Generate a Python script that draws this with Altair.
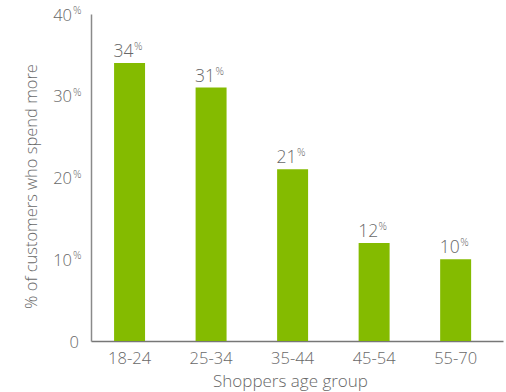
import altair as alt
import pandas as pd

# Share of customers who spend more, by shopper age group
age_groups = ["18-24", "25-34", "35-44", "45-54", "55-70"]
spend_more_pct = [34, 31, 21, 12, 10]

# Y axis tick labels
tick_values = [0, 10, 20, 30, 40]

GREEN = "#84BB00"
GREY = "#686868"
FONT = "Open Sans"
WEIGHT = 300

df = pd.DataFrame({"age": age_groups, "pct": spend_more_pct})
ticks = pd.DataFrame({"v": tick_values})

x_enc = alt.X(
    "age:N",
    sort=age_groups,
    scale=alt.Scale(paddingInner=0.62, paddingOuter=0.337, align=0.42),
    axis=alt.Axis(
        title="Shoppers age group",
        labelAngle=0,
        labelFontSize=16.5,
        labelColor=GREY,
        labelFont=FONT,
        labelFontWeight=WEIGHT,
        labelPadding=9,
        ticks=False,
        domainColor="#777777",
        domainWidth=1.5,
        titleFontSize=17,
        titleFont=FONT,
        titleColor=GREY,
        titleFontWeight=WEIGHT,
        titleX=199,
        titleY=45,
        titleBaseline="alphabetic",
    ),
)
y_scale = alt.Scale(domain=[0, 40], nice=False)
y_enc = alt.Y(
    "pct:Q",
    scale=y_scale,
    axis=alt.Axis(
        title="% of customers who spend more",
        labels=False,
        ticks=False,
        grid=False,
        domainColor="#8a8a8a",
        domainWidth=1.5,
        titleFontSize=16.5,
        titleFont=FONT,
        titleColor=GREY,
        titleFontWeight=WEIGHT,
        titleX=-55,
        titleY=172,
        titleBaseline="alphabetic",
    ),
)

base = alt.Chart(df)
bars = base.mark_bar(color=GREEN).encode(x=x_enc, y=y_enc)

value_num = base.mark_text(
    align="right", baseline="alphabetic", dx=4, dy=-6,
    fontSize=17.5, font=FONT, fontWeight=WEIGHT, color=GREY,
).encode(x=alt.X("age:N", sort=age_groups), y=alt.Y("pct:Q", scale=y_scale),
         text=alt.Text("pct:Q"))
value_pct = base.mark_text(
    align="left", baseline="alphabetic", dx=4.5, dy=-13,
    fontSize=10.5, font=FONT, fontWeight=WEIGHT, color=GREY, text="%",
).encode(x=alt.X("age:N", sort=age_groups), y=alt.Y("pct:Q", scale=y_scale))

tick_base = alt.Chart(ticks)
tick_num = tick_base.transform_filter("datum.v > 0").mark_text(
    align="right", baseline="middle", dy=1.5,
    fontSize=16.5, font=FONT, fontWeight=WEIGHT, color=GREY,
).encode(x=alt.value(-19), y=alt.Y("v:Q", scale=y_scale), text=alt.Text("v:Q"))
tick_pct = tick_base.transform_filter("datum.v > 0").mark_text(
    align="left", baseline="top", dy=-8,
    fontSize=10.5, font=FONT, fontWeight=WEIGHT, color=GREY, text="%",
).encode(x=alt.value(-18), y=alt.Y("v:Q", scale=y_scale))
tick_zero = tick_base.transform_filter("datum.v == 0").mark_text(
    align="right", baseline="middle", dy=1.5,
    fontSize=16.5, font=FONT, fontWeight=WEIGHT, color=GREY,
).encode(x=alt.value(-12), y=alt.Y("v:Q", scale=y_scale), text=alt.Text("v:Q"))

chart = (
    alt.layer(bars, value_num, value_pct, tick_num, tick_pct, tick_zero)
    .properties(
        width=412,
        height=327,
        autosize=alt.AutoSizeParams(type="none"),
        padding={"left": 91, "top": 14, "right": 3, "bottom": 51},
        background="white",
    )
    .configure_view(stroke=None)
)

chart.save("out.html", embed_options={"renderer": "svg", "actions": False})
